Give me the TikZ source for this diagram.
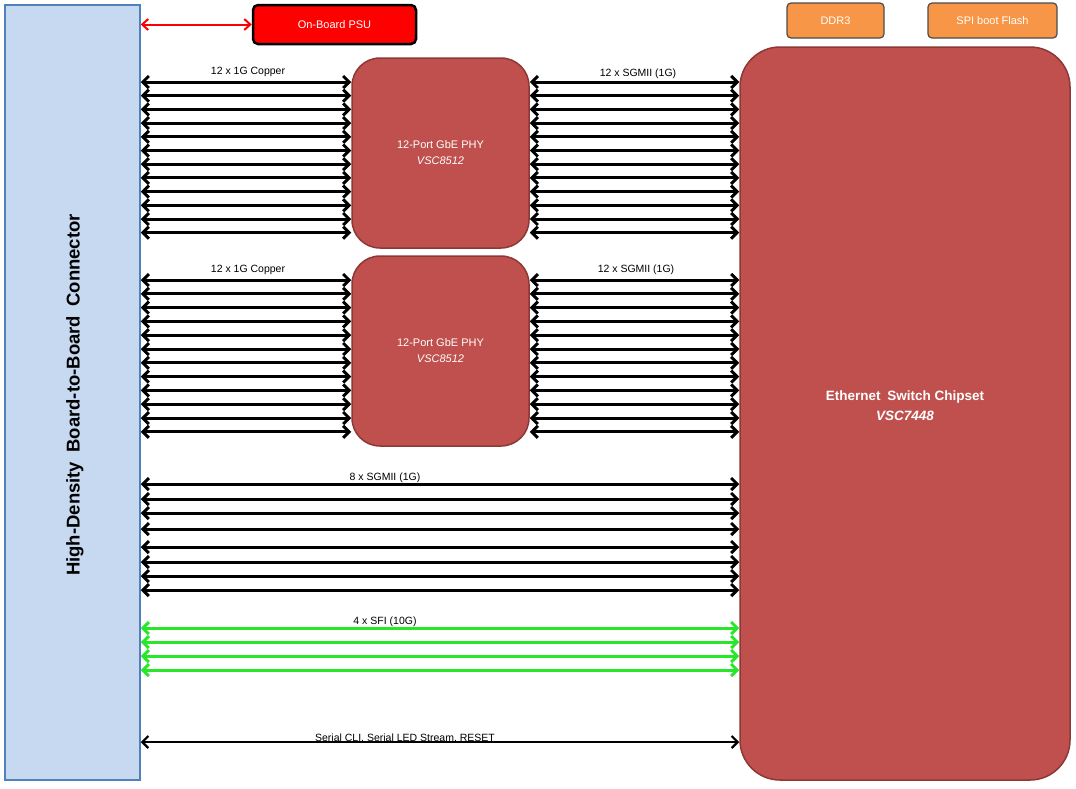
\documentclass[tikz,border=0pt]{standalone}
\usepackage{fontspec}
\setmainfont{Liberation Sans}
\usetikzlibrary{arrows.meta}
\definecolor{conn}{RGB}{198,217,240}
\definecolor{connb}{RGB}{79,129,189}
\definecolor{chip}{RGB}{192,80,77}
\definecolor{chipb}{RGB}{140,56,54}
\definecolor{orng}{RGB}{247,150,70}
\definecolor{grn}{RGB}{40,230,40}
\tikzset{
 link/.style={line width=3pt,{Straight Barb[length=6pt,width=12pt]}-{Straight Barb[length=6pt,width=12pt]}},
 glink/.style={link,draw=grn},
 chipbox/.style={draw=chipb,line width=1.5pt,fill=chip,rounded corners=28pt,text=white,font=\fontsize{11}{16}\selectfont,align=center,inner sep=0pt},
 mem/.style={draw=black!70,line width=1.2pt,fill=orng,rounded corners=4pt,text=white,font=\fontsize{11}{13}\selectfont,inner sep=0pt},
 lbl/.style={font=\fontsize{10.5}{12}\selectfont,inner sep=1pt}
}
\begin{document}
\begin{tikzpicture}[x=1pt,y=-1pt]
\useasboundingbox (0,0) rectangle (1076,788);
\node[draw=connb,line width=1.5pt,fill=conn,minimum width=135pt,minimum height=775pt,inner sep=0pt] (bc) at (72.5,392.5) {};
\node[rotate=90,font=\bfseries\fontsize{18.5}{20}\selectfont] (bct) at (75,395) {High-Density\enspace Board-to-Board\enspace Connector};
\node[draw=black,line width=2.5pt,fill=red,rounded corners=5pt,minimum width=163pt,minimum height=39pt,inner sep=0pt,text=white,font=\fontsize{11}{13}\selectfont] (psu) at (334.5,24.5) {On-Board PSU};
\draw[line width=2pt,red,{Straight Barb[length=6pt,width=11pt]}-{Straight Barb[length=6pt,width=11pt]}] (bc.east |- psu) -- (psu.west);
\node[chipbox,minimum width=177pt,minimum height=190pt] (p1) at (440.5,153) {12-Port GbE PHY\\\textit{VSC8512}};
\node[chipbox,minimum width=177pt,minimum height=190pt] (p2) at (440.5,351) {12-Port GbE PHY\\\textit{VSC8512}};
\node[chipbox,rounded corners=40pt,minimum width=330pt,minimum height=733pt] (sw) at (905,413.5) {};
\node[text=white,align=center,font=\bfseries\fontsize{13.5}{20}\selectfont] (swt) at (905,406) {Ethernet\enspace Switch Chipset\\\textit{VSC7448}};
\node[mem,minimum width=97pt,minimum height=35pt] (ddr) at (835.5,20.5) {DDR3};
\node[mem,minimum width=129pt,minimum height=35pt] (spi) at (992.5,20.5) {SPI boot Flash};
\foreach \i in {0,...,11}{
 \coordinate (a\i) at (0,{82+\i*13.7});
 \draw[link] (bc.east |- a\i) -- (p1.west |- a\i);
 \draw[link] (p1.east |- a\i) -- (sw.west |- a\i);
 \coordinate (b\i) at (0,{280+\i*13.8});
 \draw[link] (bc.east |- b\i) -- (p2.west |- b\i);
 \draw[link] (p2.east |- b\i) -- (sw.west |- b\i);
}
\node[lbl] (l1) at (248,72) {12 x 1G Copper};
\node[lbl] (l2) at (638,74) {12 x SGMII (1G)};
\node[lbl] (l3) at (248,270) {12 x 1G Copper};
\node[lbl] (l4) at (636,270) {12 x SGMII (1G)};
\foreach \y [count=\k] in {484,499,513,529,547,562,576,590}{
 \coordinate (c\k) at (0,\y);
 \draw[link] (bc.east |- c\k) -- (sw.west |- c\k);
}
\node[lbl] (l5) at (385,478) {8 x SGMII (1G)};
\foreach \y [count=\k] in {628,642,656,670}{
 \coordinate (g\k) at (0,\y);
 \draw[glink] (bc.east |- g\k) -- (sw.west |- g\k);
}
\node[lbl] (l6) at (385,622) {4 x SFI (10G)};
\coordinate (s1) at (0,742);
\draw[link,line width=2.2pt] (bc.east |- s1) -- (sw.west |- s1);
\node[lbl] (l7) at (405,738) {Serial CLI, Serial LED Stream, RESET};
\end{tikzpicture}
\end{document}
